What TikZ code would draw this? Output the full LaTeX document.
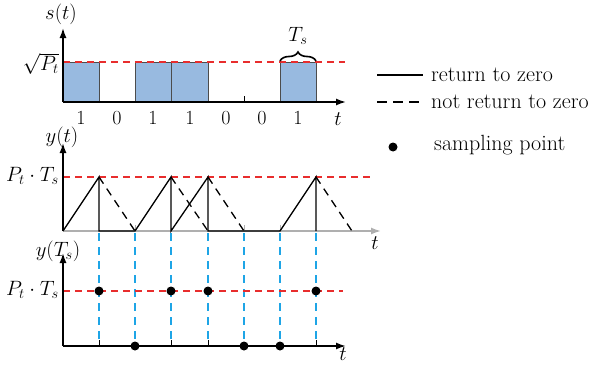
\documentclass[tikz,border=0pt]{standalone}
\usetikzlibrary{arrows.meta,decorations.pathreplacing}
\definecolor{boxblue}{RGB}{152,186,224}
\definecolor{redline}{RGB}{232,45,45}
\definecolor{cyanline}{RGB}{30,165,230}
\definecolor{axisgray}{RGB}{175,175,175}
\begin{document}
\begin{tikzpicture}[x=1pt,y=-1pt,
  axis/.style={line width=1.6pt,-{Latex[length=10pt,width=7pt]}},
  grayaxis/.style={axis,draw=axisgray},
  reddash/.style={draw=redline,line width=1.4pt,dash pattern=on 7pt off 5pt},
  bluedash/.style={draw=cyanline,line width=1.2pt,dash pattern=on 8pt off 6pt},
  bitbox/.style={fill=boxblue,draw=black!70,line width=0.8pt},
  sig/.style={line width=1.3pt},
  sigdash/.style={line width=1.3pt,dash pattern=on 8pt off 6pt},
  dot/.style={circle,fill=black,inner sep=0pt,minimum size=9pt},
  lbl/.style={font=\fontsize{20}{22}\selectfont,inner sep=0pt},
  leg/.style={font=\fontsize{22}{24}\selectfont,inner sep=0pt,anchor=west},
  ]
\useasboundingbox (0,0) rectangle (593,364);

% ---------------- top panel: s(t)
\foreach \a/\b in {63/99,135/171,171/208,280/316}
  \draw[bitbox] (\a,102) rectangle (\b,62);
\draw[line width=1pt] (244,102) -- (244,96);
\draw[reddash] (63,62) -- (345,62);
\draw[axis] (63,102) -- (63,28);
\draw[axis] (63,102) -- (346,102);
\node[lbl] (st) at (61,14) {$s(t)$};
\node[lbl,anchor=east] (sqp) at (59,64) {$\sqrt{P_t}$};
\node[lbl] (tt) at (338,119) {$t$};
\foreach \x/\v [count=\i] in {81/1,117/0,153/1,190/1,226/0,262/0,298/1}
  \node[lbl] (bit\i) at (\x,118) {\v};
\draw[decorate,decoration={brace,amplitude=9pt},line width=1.6pt] (280,61) -- (316,61);
\node[lbl] (ts) at (298,36) {$T_s$};

% ---------------- blue dashed sampling verticals
\foreach \x in {99,135,171,208,244,280,316}
  \draw[bluedash] (\x,233) -- (\x,346);

% ---------------- middle panel: y(t)
\draw[reddash] (63,177) -- (374,177);
\foreach \x in {135,244,280}
  \draw[axisgray,line width=1pt] (\x,231) -- (\x,225);
\draw[grayaxis] (63,231) -- (381,231);
\draw[sig] (63,231) -- (99,177) -- (99,231) -- (135,231) -- (171,177) -- (171,231)
  -- (208,177) -- (208,231) -- (280,231) -- (316,177) -- (316,231);
\draw[sigdash] (99,177) -- (135,231);
\draw[sigdash] (171,177) -- (208,231);
\draw[sigdash] (208,177) -- (244,231);
\draw[sigdash] (316,177) -- (352,231);
\draw[axis] (63,231) -- (63,143);
\node[lbl] (yt) at (62,137) {$y(t)$};
\node[lbl,anchor=east] (pt1) at (59,176) {$P_t\cdot T_s$};
\node[lbl] (tm) at (375,243) {$t$};

% ---------------- bottom panel: y(T_s)
\draw[reddash] (63,291) -- (343,291);
\foreach \x in {99,171,208,316}
  \draw[line width=1pt] (\x,346) -- (\x,340);
\draw[axis] (63,346) -- (346,346);
\draw[axis] (63,346) -- (63,253);
\foreach \x [count=\i] in {99,171,208,316}
  \node[dot] (hi\i) at (\x,291) {};
\foreach \x [count=\i] in {135,244,280}
  \node[dot] (lo\i) at (\x,346) {};
\node[lbl] (yts) at (58,251) {$y(T_s)$};
\node[lbl,anchor=east] (pt2) at (59,290) {$P_t\cdot T_s$};
\node[lbl] (tb) at (343,354) {$t$};

% ---------------- legend
\coordinate (l1a) at (377,75);
\coordinate (l1b) at (423,75);
\draw[line width=1.3pt] (l1a) -- (l1b);
\node[leg] (leg1) at (431,75) {return to zero};
\coordinate (l2a) at (377,102);
\coordinate (l2b) at (423,102);
\draw[line width=1.3pt,dash pattern=on 10pt off 6pt] (l2a) -- (l2b);
\node[leg] (leg2) at (431,102) {not return to zero};
\node[dot] (legdot) at (393,147) {};
\node[leg] (leg3) at (434,145) {sampling point};
\end{tikzpicture}
\end{document}
